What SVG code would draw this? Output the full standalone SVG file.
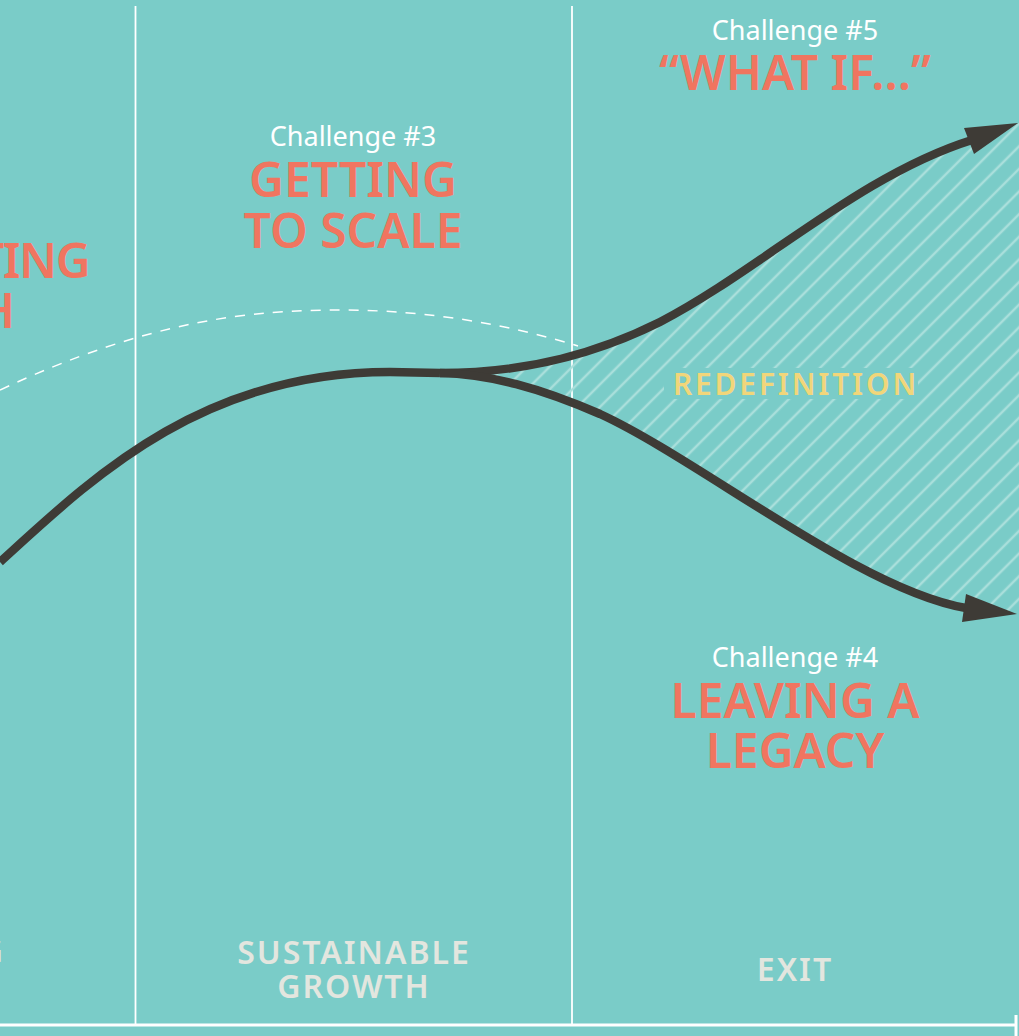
<svg xmlns="http://www.w3.org/2000/svg" width="1019" height="1036" viewBox="0 0 1019 1036">
  <style>
    .bg { fill: #7accc8; }
    .rule { stroke: #ffffff; stroke-width: 1.8; fill: none; }
    .axis { stroke: #ffffff; stroke-width: 3; fill: none; }
    .dash { stroke: #ffffff; stroke-width: 1.5; fill: none; stroke-dasharray: 10 9; }
    .curve { stroke: #3e3b36; stroke-width: 8.5; fill: none; stroke-linecap: butt; }
    .head { fill: #3e3b36; }
    .hatch { stroke: #a9dfdb; stroke-width: 2.5; }
    .sub { font-family: "Noto Sans", "Open Sans", sans-serif; font-size: 27px; fill: #ffffff; text-anchor: middle; }
    .title { font-family: "Noto Sans", "Open Sans", sans-serif; font-size: 48px; font-weight: 600; fill: #f07560; text-anchor: middle; }
    .phase { font-family: "Noto Sans", "Open Sans", sans-serif; font-size: 32px; font-weight: 600; fill: #e3e6df; text-anchor: middle; letter-spacing: 2px; }
    .zone { font-family: "Noto Sans", "Open Sans", sans-serif; font-size: 30px; font-weight: 600; fill: #f1d67a; text-anchor: middle; letter-spacing: 2.8px; }
  </style>
  <defs>
    <pattern id="stripes" patternUnits="userSpaceOnUse" width="16" height="16" patternTransform="rotate(45)">
      <line class="hatch" x1="8" y1="-2" x2="8" y2="18"/>
    </pattern>
    <clipPath id="gap">
      <path d="M440,373 C530,373 600,352 660,322 C760,270 860,175 972,140 L1019,123 L1019,614 L964,608 C860,590 700,460 600,414 C540,388 490,374 440,373 Z"/>
    </clipPath>
  </defs>

  <rect class="bg" x="0" y="0" width="1019" height="1036"/>

  <!-- column dividers and baseline -->
  <g id="grid">
    <line class="rule" x1="135.5" y1="6" x2="135.5" y2="1024"/>
    <line class="rule" x1="572" y1="6" x2="572" y2="1024"/>
    <line class="axis" x1="0" y1="1025" x2="1017" y2="1025"/>
    <line class="axis" x1="1016" y1="1015" x2="1016" y2="1036"/>
  </g>

  <!-- striped zone between the two branches -->
  <g id="redefinition-zone">
    <rect x="430" y="110" width="600" height="520" fill="url(#stripes)" clip-path="url(#gap)"/>
  </g>

  <g id="connectors">
    <path class="dash" d="M0,390 C150,320 250,310 340,310 C430,310 510,325 578,346"/>
    <path class="curve" d="M0,562 C90,480 200,372 390,372 L440,373"/>
    <path class="curve" d="M440,373 C530,373 600,352 660,322 C760,270 860,175 972,140"/>
    <polygon class="head" points="1018,123 964,128 974,154"/>
    <path class="curve" d="M440,373 C490,374 540,388 600,414 C700,460 860,590 966,608"/>
    <polygon class="head" points="1017,614 966,594 962,622"/>
  </g>

  <g id="label-redefinition">
    <rect class="bg" x="664" y="368" width="254" height="31"/>
    <text class="zone" x="796" y="395">REDEFINITION</text>
  </g>

  <g id="challenge-2">
    <text class="title" x="89" y="278" style="text-anchor:end;letter-spacing:-1.5px">TING</text>
    <text class="title" x="15" y="328" style="text-anchor:end">H</text>
  </g>

  <g id="challenge-3">
    <text class="sub" x="353" y="146">Challenge #3</text>
    <text class="title" x="353" y="197">GETTING</text>
    <text class="title" x="353" y="248">TO SCALE</text>
  </g>

  <g id="challenge-5">
    <text class="sub" x="795" y="40">Challenge #5</text>
    <text class="title" x="795" y="90">“WHAT IF...”</text>
  </g>

  <g id="challenge-4">
    <text class="sub" x="795" y="667">Challenge #4</text>
    <text class="title" x="795" y="718">LEAVING A</text>
    <text class="title" x="795" y="768">LEGACY</text>
  </g>

  <g id="phase-1">
    <text class="phase" x="3" y="963" style="text-anchor:end;letter-spacing:0">G</text>
  </g>

  <g id="phase-sustainable-growth">
    <text class="phase" x="354" y="964">SUSTAINABLE</text>
    <text class="phase" x="354" y="998">GROWTH</text>
  </g>

  <g id="phase-exit">
    <text class="phase" x="795" y="981">EXIT</text>
  </g>
</svg>
